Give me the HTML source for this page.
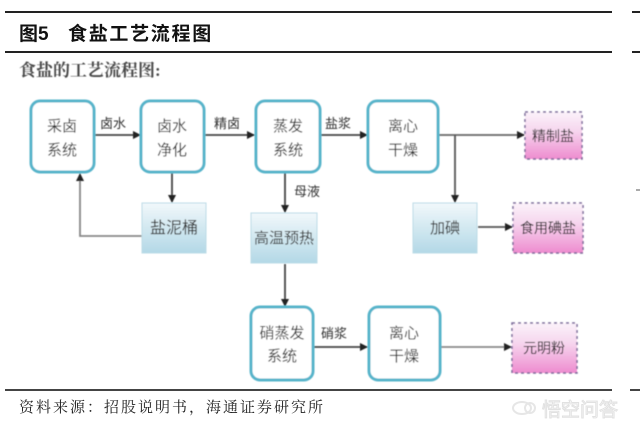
<!DOCTYPE html>
<html><head><meta charset="utf-8"><style>
html,body{margin:0;padding:0;background:#fff;width:640px;height:428px;overflow:hidden}
svg{display:block}
.cjk{font-family:"Liberation Sans","Noto Sans CJK SC","WenQuanYi Zen Hei",sans-serif}
.serif{font-family:"Liberation Serif","Noto Serif CJK SC",serif}
</style></head><body>
<svg width="640" height="428" viewBox="0 0 640 428" xmlns="http://www.w3.org/2000/svg" class="cjk">
<defs>
<linearGradient id="bl" x1="0" y1="0" x2="0" y2="1">
<stop offset="0" stop-color="#f1f8fb"/><stop offset="1" stop-color="#b3d8e6"/>
</linearGradient>
<linearGradient id="pk" x1="0" y1="0" x2="0" y2="1">
<stop offset="0" stop-color="#fbf2fa"/><stop offset="0.4" stop-color="#f6d6ee"/><stop offset="1" stop-color="#ee8ccf"/>
</linearGradient>
<filter id="sf" x="-10%" y="-10%" width="120%" height="120%"><feGaussianBlur stdDeviation="0.45"/></filter>
<marker id="ar" markerWidth="8" markerHeight="8" refX="7" refY="4" orient="auto" markerUnits="userSpaceOnUse">
<path d="M0,0 L8,4 L0,8 Z" fill="#222"/>
</marker>
</defs>

<!-- header lines -->
<line x1="5" y1="12" x2="612" y2="12" stroke="#222" stroke-width="2"/>
<line x1="632" y1="12" x2="640" y2="12" stroke="#222" stroke-width="2"/>
<line x1="5" y1="52" x2="612" y2="52" stroke="#222" stroke-width="2"/>
<line x1="632" y1="52" x2="640" y2="52" stroke="#222" stroke-width="2"/>
<text x="19" y="40" font-size="19" font-weight="bold" fill="#111">图5</text>
<text x="68" y="40" font-size="19" font-weight="bold" fill="#111" letter-spacing="1.7">食盐工艺流程图</text>

<text x="19" y="76" font-size="17" fill="#4a4a4a" font-weight="bold" class="serif" filter="url(#sf)">食盐的工艺流程图:</text>

<g filter="url(#sf)">
<!-- connectors -->
<g stroke="#444" stroke-width="1.8" fill="none">
<line x1="95" y1="135" x2="140" y2="135" marker-end="url(#ar)"/>
<line x1="205" y1="135" x2="254" y2="135" marker-end="url(#ar)"/>
<line x1="321" y1="135" x2="367" y2="135" marker-end="url(#ar)"/>
<line x1="439" y1="135" x2="524" y2="135" marker-end="url(#ar)" stroke="#666"/>
<line x1="455" y1="135" x2="455" y2="202" marker-end="url(#ar)" stroke="#555"/>
<line x1="478" y1="227" x2="512" y2="227" marker-end="url(#ar)" stroke="#555"/>
<line x1="172" y1="173" x2="172" y2="202" marker-end="url(#ar)"/>
<polyline points="142,236 80,236 80,174" marker-end="url(#ar)" stroke="#888"/>
<line x1="285" y1="173" x2="285" y2="212" marker-end="url(#ar)"/>
<line x1="285" y1="264" x2="285" y2="306" marker-end="url(#ar)"/>
<line x1="314" y1="347" x2="367" y2="347" marker-end="url(#ar)"/>
<line x1="441" y1="347" x2="511" y2="347" marker-end="url(#ar)" stroke="#888"/>
</g>

<!-- rounded boxes -->
<g fill="#fff" stroke="#56b4ca" stroke-width="3">
<rect x="31" y="101" width="63" height="71" rx="9"/>
<rect x="141" y="101" width="63" height="71" rx="9"/>
<rect x="256" y="101" width="64" height="71" rx="9"/>
<rect x="368" y="101" width="70" height="71" rx="9"/>
<rect x="251" y="307" width="62" height="73" rx="9"/>
<rect x="369" y="307" width="71" height="73" rx="9"/>
</g>

<!-- blue rect boxes -->
<g fill="url(#bl)" stroke="#bcdbe6" stroke-width="1">
<rect x="142" y="203" width="64" height="50"/>
<rect x="251" y="213" width="66" height="50"/>
<rect x="413" y="203" width="64" height="50"/>
</g>

<!-- pink boxes -->
<g fill="url(#pk)" stroke="#7a6a9a" stroke-width="1.5" stroke-dasharray="3,3">
<rect x="525" y="112" width="57" height="47"/>
<rect x="513" y="203" width="70" height="50"/>
<rect x="512" y="323" width="65" height="50"/>
</g>

<!-- box text -->
<g font-size="15" fill="#333" text-anchor="middle">
<text x="62" y="131">采卤</text><text x="62" y="155">系统</text>
<text x="172" y="131">卤水</text><text x="172" y="155">净化</text>
<text x="288" y="131">蒸发</text><text x="288" y="155">系统</text>
<text x="403" y="131">离心</text><text x="403" y="155">干燥</text>
<text x="282" y="338">硝蒸发</text><text x="282" y="361">系统</text>
<text x="404" y="338">离心</text><text x="404" y="361">干燥</text>
<text x="174" y="233" font-size="16">盐泥桶</text>
<text x="284" y="243" font-size="15">高温预热</text>
<text x="445" y="233" font-size="15">加碘</text>
<text x="553" y="141" font-size="14" fill="#222">精制盐</text>
<text x="548" y="233" font-size="14" fill="#222">食用碘盐</text>
<text x="544" y="353" font-size="14" fill="#222">元明粉</text>
</g>

<!-- connector labels -->
<g font-size="13" fill="#333" text-anchor="middle">
<text x="113" y="128">卤水</text>
<text x="227" y="128">精卤</text>
<text x="338" y="128">盐浆</text>
<text x="307" y="196">母液</text>
<text x="334" y="338">硝浆</text>
</g>
</g>

<line x1="636" y1="190" x2="640" y2="190" stroke="#555" stroke-width="1"/>

<!-- footer -->
<line x1="5" y1="390" x2="612" y2="390" stroke="#444" stroke-width="2"/>
<line x1="630" y1="390" x2="640" y2="390" stroke="#444" stroke-width="2"/>
<text x="19" y="412" font-size="15" fill="#222" letter-spacing="2" class="serif">资料来源：招股说明书，海通证券研究所</text>

<!-- watermark -->
<g opacity="0.85">
<ellipse cx="522" cy="408" rx="9" ry="6" fill="none" stroke="#e2e2e2" stroke-width="2"/>
<ellipse cx="530" cy="408" rx="5" ry="5" fill="none" stroke="#e2e2e2" stroke-width="2"/>
<text x="542" y="416" font-size="19" fill="#fff" stroke="#dcdcdc" stroke-width="1">悟空问答</text>
</g>
</svg>
</body></html>
